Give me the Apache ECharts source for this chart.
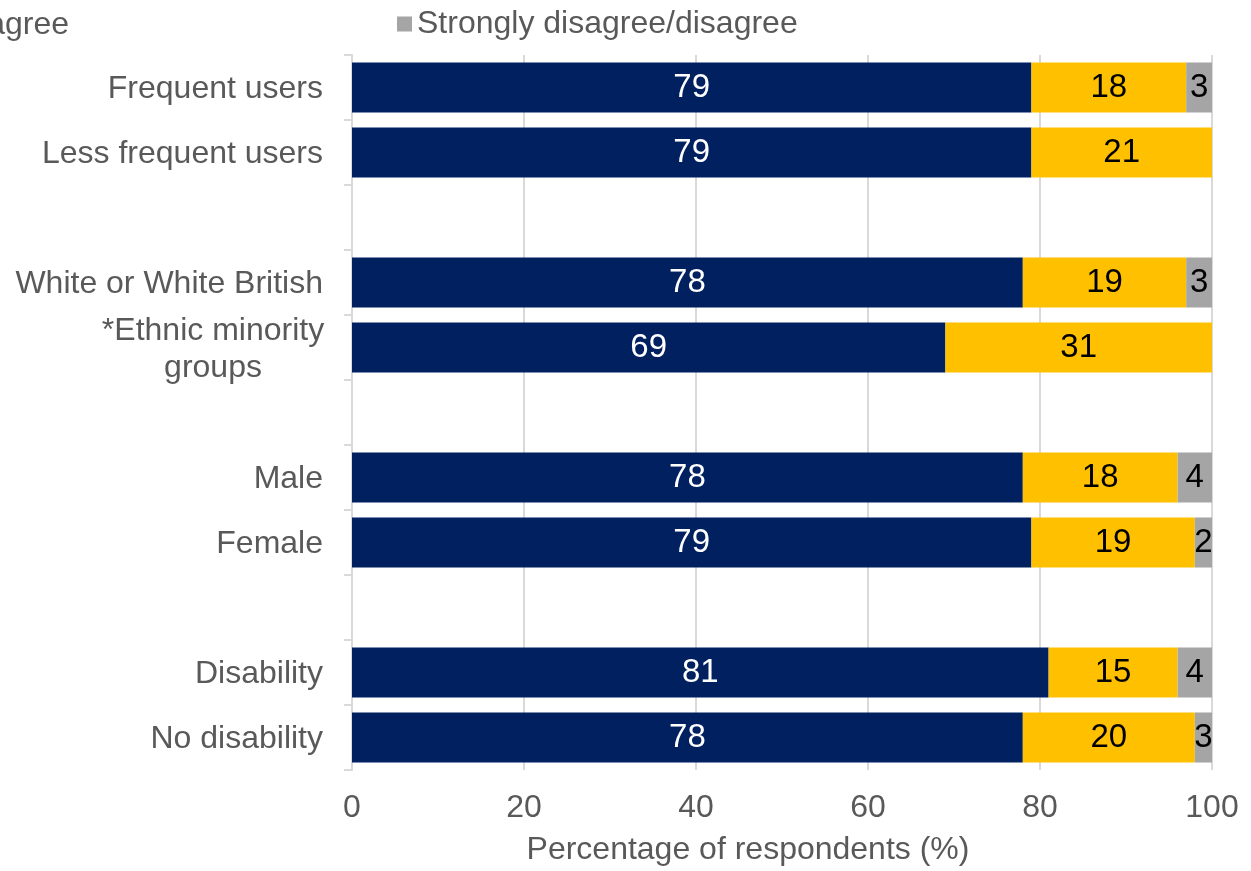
<!DOCTYPE html>
<html>
<head>
<meta charset="utf-8">
<title>Agreement by respondent group</title>
<script src="https://cdn.jsdelivr.net/npm/echarts@6/dist/echarts.min.js"></script>
<style>
  html, body { margin: 0; padding: 0; background: #ffffff; }
  #chart { width: 1251px; height: 871px; }
</style>
</head>
<body>
<div id="chart"></div>
<script>
// Respondent groups, top to bottom; blank rows separate the groupings
const categories = [
  'Frequent users', 'Less frequent users', ' ',
  'White or White British', '*Ethnic minority groups', '  ',
  'Male', 'Female', '   ',
  'Disability', 'No disability'
];
const seriesNames = ['Strongly agree/agree', 'Neither agree nor disagree', 'Strongly disagree/disagree'];
const agreeValues    = [79, 79, null, 78, 69, null, 78, 79, null, 81, 78];
const neitherValues  = [18, 21, null, 19, 31, null, 18, 19, null, 15, 20];
const disagreeValues = [3, null, null, 3, null, null, 4, 2, null, 4, 3];
const xTicks = [0, 20, 40, 60, 80, 100];

const FONT = '"Liberation Sans", Arial, Helvetica, sans-serif';
const TEXT_GREY = '#595959';
const colors = ['#002060', '#FFC000', '#A5A5A5'];
const labelColors = ['#ffffff', '#000000', '#000000'];

const chart = echarts.init(document.getElementById('chart'), null, { renderer: 'canvas' });

function makeSeries(i, values) {
  return {
    name: seriesNames[i],
    type: 'bar',
    stack: 'total',
    data: values,
    barCategoryGap: '23%',
    itemStyle: { color: colors[i] },
    label: {
      show: true,
      position: 'inside',
      color: labelColors[i],
      fontFamily: FONT,
      fontSize: 33,
      padding: [4, 0, 0, 0],
      formatter: p => (p.value == null ? '' : String(p.value))
    },
    emphasis: { disabled: true }
  };
}

const legendText = { color: TEXT_GREY, fontFamily: FONT, fontSize: 32 };

chart.setOption({
  animation: false,
  textStyle: { fontFamily: FONT },
  color: colors,
  legend: [
    {
      data: [seriesNames[0]],
      right: 1251 + 72 + 320 + 16,
      top: 4,
      icon: 'rect', itemWidth: 15, itemHeight: 15,
      textStyle: legendText
    },
    {
      data: [seriesNames[1]],
      right: 1251 - 74,
      top: 4,
      icon: 'rect', itemWidth: 15, itemHeight: 15,
      textStyle: legendText
    },
    {
      data: [seriesNames[2]],
      left: 392,
      top: 3,
      icon: 'rect', itemWidth: 15, itemHeight: 15,
      textStyle: legendText
    }
  ],
  grid: { left: 352, right: 39, top: 55, bottom: 98, containLabel: false },
  xAxis: {
    type: 'value',
    min: xTicks[0],
    max: xTicks[xTicks.length - 1],
    interval: 20,
    name: 'Percentage of respondents (%)',
    nameLocation: 'middle',
    nameGap: 64,
    nameTextStyle: { color: TEXT_GREY, fontFamily: FONT, fontSize: 32, padding: [0, 68, 0, 0] },
    axisLine: { show: false },
    axisTick: { show: false },
    axisLabel: { color: TEXT_GREY, fontFamily: FONT, fontSize: 32, margin: 22 },
    splitLine: { show: true, lineStyle: { color: '#D9D9D9', width: 2 } }
  },
  yAxis: {
    type: 'category',
    data: categories,
    inverse: true,
    axisLine: { show: true, lineStyle: { color: '#D9D9D9', width: 2 } },
    axisTick: { show: true, length: 8, lineStyle: { color: '#D9D9D9', width: 2 } },
    axisLabel: {
      color: TEXT_GREY,
      fontFamily: FONT,
      fontSize: 32,
      margin: 29,
      interval: 0,
      padding: [4, 0, 0, 0],
      formatter: v => (v === '*Ethnic minority groups' ? '{a|*Ethnic minority}\n{b|groups}' : v),
      rich: {
        a: { fontSize: 32, fontFamily: FONT, color: TEXT_GREY, lineHeight: 37, width: 220, align: 'center' },
        b: { fontSize: 32, fontFamily: FONT, color: TEXT_GREY, lineHeight: 37, width: 220, align: 'center' }
      }
    }
  },
  series: [
    makeSeries(0, agreeValues),
    makeSeries(1, neitherValues),
    makeSeries(2, disagreeValues)
  ]
});
</script>
</body>
</html>
